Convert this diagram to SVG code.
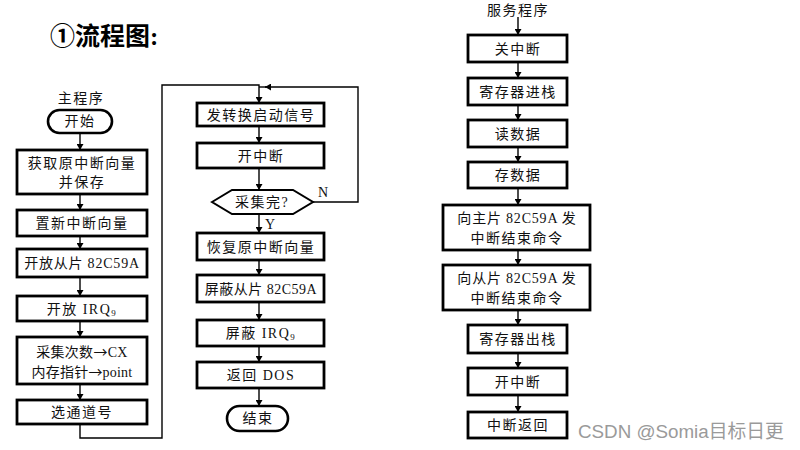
<svg xmlns="http://www.w3.org/2000/svg" width="800" height="450" viewBox="0 0 800 450">
<style>
.box{fill:#fff;stroke:#000;stroke-width:2.8}
.term{fill:#fff;stroke:#000;stroke-width:2.6}
.t{font-family:"Liberation Serif","Noto Sans CJK SC",serif;font-size:14px;fill:#111;text-anchor:middle;letter-spacing:1.5px}
.arr{font-family:"Noto Sans CJK SC",sans-serif}
.c{fill:none;stroke:#000;stroke-width:1.4}
.title{font-family:"Liberation Serif","Noto Sans CJK SC",serif;font-size:25px;font-weight:bold;fill:#000}
.wm{font-family:"Liberation Sans","Noto Sans CJK SC",sans-serif;font-size:18.8px;fill:#9a9a9a}
</style>
<defs>
<marker id="ah" markerWidth="6" markerHeight="7" refX="6" refY="3.5" orient="auto" markerUnits="userSpaceOnUse">
<path d="M0,0 L6,3.5 L0,7 z" fill="#000"/>
</marker>
</defs>
<text class="title" x="50" y="45">①流程图:</text>

<g id="connectors">
<path class="c" d="M80,133 V150" marker-end="url(#ah)"/>
<path class="c" d="M80,194 V210" marker-end="url(#ah)"/>
<path class="c" d="M80,236 V249" marker-end="url(#ah)"/>
<path class="c" d="M80,277 V296" marker-end="url(#ah)"/>
<path class="c" d="M80,321 V337" marker-end="url(#ah)"/>
<path class="c" d="M80,384 V400" marker-end="url(#ah)"/>
<path class="c" d="M80,424 V438 H162 V85 H259 V103" marker-end="url(#ah)"/>
<path class="c" d="M259,126 V143" marker-end="url(#ah)"/>
<path class="c" d="M259,168 V190" marker-end="url(#ah)"/>
<path class="c" d="M259,214 V233" marker-end="url(#ah)"/>
<path class="c" d="M313,202 H358 V87 H265" marker-end="url(#ah)"/>
<path class="c" d="M266,87 H259"/>
<path class="c" d="M259,260 V275" marker-end="url(#ah)"/>
<path class="c" d="M259,302 V320" marker-end="url(#ah)"/>
<path class="c" d="M259,346 V362" marker-end="url(#ah)"/>
<path class="c" d="M259,388 V406" marker-end="url(#ah)"/>
<path class="c" d="M518,17 V35" marker-end="url(#ah)"/>
<path class="c" d="M518,62 V78" marker-end="url(#ah)"/>
<path class="c" d="M518,105 V120" marker-end="url(#ah)"/>
<path class="c" d="M518,147 V162" marker-end="url(#ah)"/>
<path class="c" d="M518,188 V205" marker-end="url(#ah)"/>
<path class="c" d="M518,250 V265" marker-end="url(#ah)"/>
<path class="c" d="M518,310 V325" marker-end="url(#ah)"/>
<path class="c" d="M518,353 V368" marker-end="url(#ah)"/>
<path class="c" d="M518,395 V412" marker-end="url(#ah)"/>
<text class="t" x="323" y="197" style="letter-spacing:0">N</text>
<text class="t" x="270" y="229" style="letter-spacing:0">Y</text>
</g>

<g id="main-label"><text class="t" x="81" y="103">主程序</text></g>
<g id="start"><rect class="term" x="48" y="110" width="64" height="23" rx="11.5"/><text class="t" x="80" y="126">开始</text></g>
<g id="get-vector"><rect class="box" x="17" y="150" width="130" height="44"/><text class="t" x="82" y="168">获取原中断向量</text><text class="t" x="82" y="187">并保存</text></g>
<g id="set-vector"><rect class="box" x="17" y="210" width="130" height="26"/><text class="t" x="82" y="228">置新中断向量</text></g>
<g id="open-slave"><rect class="box" x="17" y="249" width="130" height="28"/><text class="t" x="82" y="268" style="letter-spacing:0.8px">开放从片 82C59A</text></g>
<g id="open-irq"><rect class="box" x="17" y="296" width="130" height="25"/><text class="t" x="82" y="314">开放 IRQ<tspan font-size="9" dy="2">9</tspan></text></g>
<g id="init"><rect class="box" x="17" y="337" width="130" height="47"/><text class="t" x="82" y="357" style="letter-spacing:0.3px">采集次数<tspan class="arr">→</tspan>CX</text><text class="t" x="82" y="377" style="letter-spacing:0.2px">内存指针<tspan class="arr">→</tspan>point</text></g>
<g id="select-ch"><rect class="box" x="17" y="400" width="130" height="24"/><text class="t" x="82" y="417">选通道号</text></g>

<g id="start-conv"><rect class="box" x="197" y="103" width="127" height="23"/><text class="t" x="261" y="120">发转换启动信号</text></g>
<g id="enable-int"><rect class="box" x="197" y="143" width="127" height="25"/><text class="t" x="261" y="161">开中断</text></g>
<g id="done"><polygon class="box" points="212,202 232,190 293,190 313,202 293,214 232,214" style="stroke-width:2"/><text class="t" x="262" y="207">采集完?</text></g>
<g id="restore"><rect class="box" x="197" y="233" width="127" height="27"/><text class="t" x="261" y="252">恢复原中断向量</text></g>
<g id="mask-slave"><rect class="box" x="197" y="275" width="127" height="27"/><text class="t" x="261" y="294" style="letter-spacing:0.5px">屏蔽从片 82C59A</text></g>
<g id="mask-irq"><rect class="box" x="197" y="320" width="127" height="26"/><text class="t" x="261" y="338">屏蔽 IRQ<tspan font-size="9" dy="2">9</tspan></text></g>
<g id="ret-dos"><rect class="box" x="197" y="362" width="127" height="26"/><text class="t" x="261" y="380">返回 DOS</text></g>
<g id="end"><rect class="term" x="227" y="406" width="61" height="25" rx="12.5"/><text class="t" x="258" y="423">结束</text></g>

<g id="isr-label"><text class="t" x="518" y="15">服务程序</text></g>
<g id="cli"><rect class="box" x="468" y="35" width="99" height="27"/><text class="t" x="518" y="54">关中断</text></g>
<g id="push"><rect class="box" x="468" y="78" width="99" height="27"/><text class="t" x="518" y="97">寄存器进栈</text></g>
<g id="read"><rect class="box" x="468" y="120" width="99" height="27"/><text class="t" x="518" y="139">读数据</text></g>
<g id="store"><rect class="box" x="468" y="162" width="99" height="26"/><text class="t" x="518" y="180">存数据</text></g>
<g id="eoi-master"><rect class="box" x="443" y="205" width="147" height="45"/><text class="t" x="517" y="223" style="letter-spacing:0.8px">向主片 82C59A 发</text><text class="t" x="517" y="243">中断结束命令</text></g>
<g id="eoi-slave"><rect class="box" x="443" y="265" width="147" height="45"/><text class="t" x="517" y="283" style="letter-spacing:0.8px">向从片 82C59A 发</text><text class="t" x="517" y="303">中断结束命令</text></g>
<g id="pop"><rect class="box" x="468" y="325" width="99" height="28"/><text class="t" x="518" y="344">寄存器出栈</text></g>
<g id="sti"><rect class="box" x="468" y="368" width="99" height="27"/><text class="t" x="518" y="387">开中断</text></g>
<g id="iret"><rect class="box" x="468" y="412" width="99" height="26"/><text class="t" x="518" y="430">中断返回</text></g>

<text class="wm" x="578" y="438">CSDN @Somia目标日更</text>
</svg>
